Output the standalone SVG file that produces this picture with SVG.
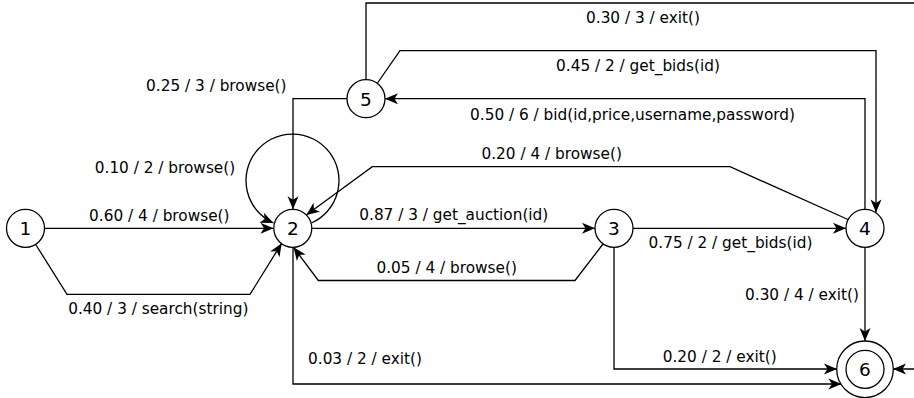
<svg xmlns="http://www.w3.org/2000/svg" width="914" height="398" viewBox="0 0 914 398">
  <style>
    .edge { fill: none; stroke: #000; stroke-width: 1.3; marker-end: url(#arrow); }
    .state { fill: #fff; stroke: #000; stroke-width: 1.3; }
    .lbl { font-family: "DejaVu Sans", sans-serif; font-size: 15.3px; fill: #000; text-anchor: middle; }
    .num { font-family: "DejaVu Sans", sans-serif; font-size: 18.5px; fill: #000; text-anchor: middle; }
  </style>
  <defs>
    <marker id="arrow" markerUnits="userSpaceOnUse" markerWidth="16" markerHeight="14" viewBox="-14 -7 16 14" refX="0" refY="0" orient="auto">
      <path d="M0,0 L-13,-5.5 L-9.5,0 L-13,5.5 Z" fill="#000"/>
    </marker>
  </defs>

  <g id="connectors">
    <!-- 1 -> 2 -->
    <path class="edge" d="M44.5,228.3 H273.5"/>
    <path class="edge" d="M36,245 L67,294.3 H250 L281.7,243.3"/>
    <!-- 2 -> 2 -->
    <path class="edge" d="M311.5,223 A46.5,46.5 0 1 0 273.5,223"/>
    <!-- 5 -> 2 -->
    <path class="edge" d="M347,98.7 H293 V209.3"/>
    <!-- 4 -> 2 -->
    <path class="edge" d="M848,219.5 L730,166.7 H372.3 L306.3,214.9"/>
    <!-- 4 -> 5 -->
    <path class="edge" d="M865,209 V98.7 H385"/>
    <!-- 5 -> 4 -->
    <path class="edge" d="M377.5,83 L400,50.7 H876 V212.5"/>
    <!-- 5 -> 6 (around the top and right edge) -->
    <path class="edge" d="M366,79.7 V3 H924 V369 H893"/>
    <!-- 2 -> 3 -->
    <path class="edge" d="M311.8,228.3 H595"/>
    <!-- 3 -> 2 -->
    <path class="edge" d="M603,244 L575,280.5 H318.3 L293.5,247.3"/>
    <!-- 3 -> 4 -->
    <path class="edge" d="M633,228.3 H846"/>
    <!-- 3 -> 6 -->
    <path class="edge" d="M614,247 V369 H837"/>
    <!-- 4 -> 6 -->
    <path class="edge" d="M865,247 V341"/>
    <!-- 2 -> 6 -->
    <path class="edge" d="M293,247.3 V384 H841.4"/>

    <text class="lbl" x="159.3" y="220.5">0.60 / 4 / browse()</text>
    <text class="lbl" x="158.3" y="314">0.40 / 3 / search(string)</text>
    <text class="lbl" x="165" y="172.5">0.10 / 2 / browse()</text>
    <text class="lbl" x="216.3" y="91">0.25 / 3 / browse()</text>
    <text class="lbl" x="643" y="23">0.30 / 3 / exit()</text>
    <text class="lbl" x="638" y="71">0.45 / 2 / get_bids(id)</text>
    <text class="lbl" x="632.5" y="119.5">0.50 / 6 / bid(id,price,username,password)</text>
    <text class="lbl" x="551.7" y="159.3">0.20 / 4 / browse()</text>
    <text class="lbl" x="453.8" y="220">0.87 / 3 / get_auction(id)</text>
    <text class="lbl" x="446.7" y="272.5">0.05 / 4 / browse()</text>
    <text class="lbl" x="730.5" y="248.3">0.75 / 2 / get_bids(id)</text>
    <text class="lbl" x="802" y="300">0.30 / 4 / exit()</text>
    <text class="lbl" x="719.7" y="361.7">0.20 / 2 / exit()</text>
    <text class="lbl" x="365" y="364">0.03 / 2 / exit()</text>
  </g>

  <g id="node1">
    <circle class="state" cx="25.5" cy="228.3" r="19"/>
    <text class="num" x="25.5" y="235.3">1</text>
  </g>
  <g id="node2">
    <circle class="state" cx="292.8" cy="228.3" r="19"/>
    <text class="num" x="292.8" y="235.3">2</text>
  </g>
  <g id="node3">
    <circle class="state" cx="614" cy="228.3" r="19"/>
    <text class="num" x="614" y="235.3">3</text>
  </g>
  <g id="node4">
    <circle class="state" cx="865" cy="228.3" r="19"/>
    <text class="num" x="865" y="235.3">4</text>
  </g>
  <g id="node5">
    <circle class="state" cx="366" cy="98.7" r="19"/>
    <text class="num" x="366" y="105.7">5</text>
  </g>
  <g id="node6">
    <circle class="state" cx="865" cy="369.3" r="28.3"/>
    <circle class="state" cx="865" cy="369.3" r="19"/>
    <text class="num" x="865" y="376.3">6</text>
  </g>
</svg>
